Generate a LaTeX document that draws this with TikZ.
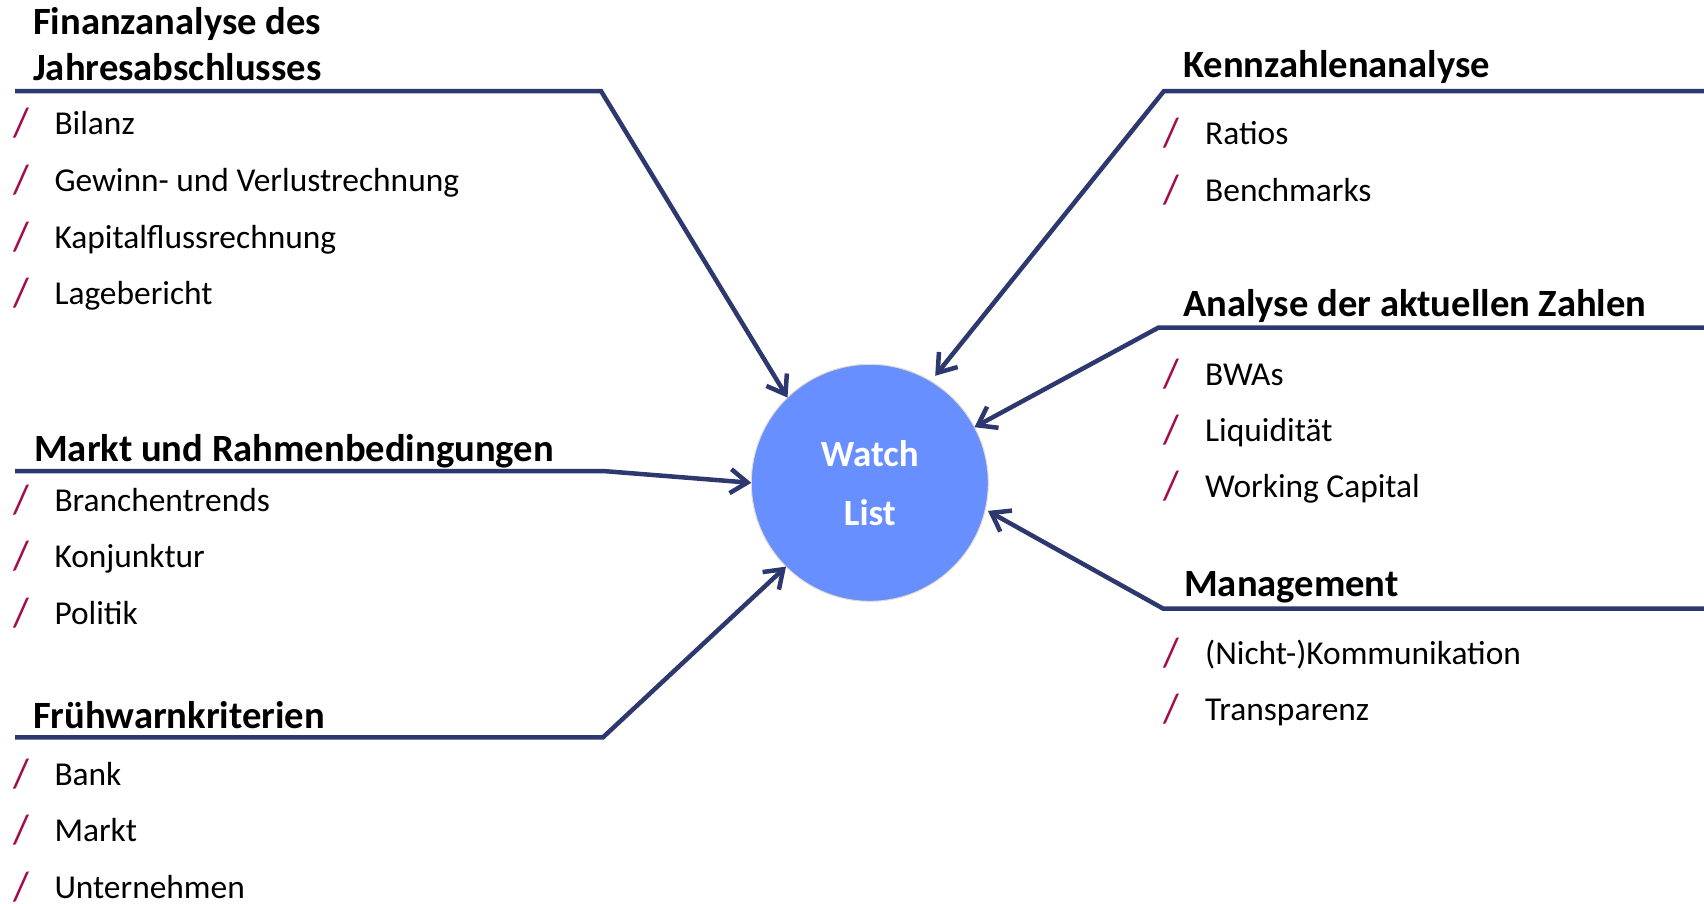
\documentclass[tikz,border=0pt]{standalone}
\usepackage{fontspec}
\setmainfont{Carlito}
\usetikzlibrary{arrows.meta}

\definecolor{navy}{RGB}{44,56,110}
\definecolor{bubble}{RGB}{104,143,255}
\definecolor{slashred}{RGB}{163,12,80}

\begin{document}
\begin{tikzpicture}[x=1pt, y=-1pt,
  head/.style={font=\fontsize{38.6}{45.7}\selectfont\bfseries, anchor=base west, inner sep=0pt, align=left},
  item/.style={font=\fontsize{33.4}{40}\selectfont, anchor=base west, inner sep=0pt},
  bullet/.style={font=\fontsize{41}{48}\selectfont, text=slashred, anchor=base, inner sep=0pt},
  link/.style={draw=navy, line width=4.5pt, -{Straight Barb[length=17pt,width=24pt]}}]
\useasboundingbox (0,0) rectangle (1704,903); % page

\node[circle, fill=bubble, draw={rgb,255:red,228;green,218;blue,205}, line width=1pt, minimum size=237pt, inner sep=0pt, outer sep=0pt,
      font=\fontsize{37}{59}\selectfont\bfseries, text=white, align=center] (watch) at (869.8,482.8) {Watch\\List}; % centre

% left: Finanzanalyse
\node[head] (finanz) at (33,80) {Finanzanalyse des\\Jahresabschlusses}; % heading
\coordinate (finanzL) at (15,91); % line start
\coordinate (finanzK) at (601,91); % bend
\draw[link] (finanzL) -- (finanzK) -- (watch.134.6); % arrow
\node[bullet] (b11) at (21,136.3) {/}; \node[item] (i11) at (54.3,134.3) {Bilanz};
\node[bullet] (b12) at (21,193.7) {/}; \node[item] (i12) at (54.3,191.7) {Gewinn- und Verlustrechnung};
\node[bullet] (b13) at (21,250.3) {/}; \node[item] (i13) at (54.3,248.3) {Kapitalflussrechnung};
\node[bullet] (b14) at (21,306.0) {/}; \node[item] (i14) at (54.3,304.0) {Lagebericht};

% left: Markt
\node[head] (markt) at (34,461.7) {Markt und Rahmenbedingungen}; % heading
\coordinate (marktL) at (15,471); % line start
\coordinate (marktK) at (603,471); % bend
\draw[link] (marktL) -- (marktK) -- (watch.180.2); % arrow
\node[bullet] (b21) at (21,513.0) {/}; \node[item] (i21) at (54.3,511.0) {Branchentrends};
\node[bullet] (b22) at (21,569.7) {/}; \node[item] (i22) at (54.3,567.7) {Konjunktur};
\node[bullet] (b23) at (21,626.3) {/}; \node[item] (i23) at (54.3,624.3) {Politik};

% left: Fruehwarn
\node[head] (frueh) at (33,728.3) {Frühwarnkriterien}; % heading
\coordinate (fruehL) at (15,737.3); % line start
\coordinate (fruehK) at (603,737.3); % bend
\draw[link] (fruehL) -- (fruehK) -- (watch.225.4); % arrow
\node[bullet] (b31) at (21,787.0) {/}; \node[item] (i31) at (54.3,785.0) {Bank};
\node[bullet] (b32) at (21,843.7) {/}; \node[item] (i32) at (54.3,841.7) {Markt};
\node[bullet] (b33) at (21,900.3) {/}; \node[item] (i33) at (54.3,898.3) {Unternehmen};

% right: Kennzahlen
\node[head] (kennz) at (1183,77.3) {Kennzahlenanalyse}; % heading
\coordinate (kennzR) at (1710,91); % line end
\coordinate (kennzK) at (1164,91); % bend
\draw[link, shorten >=7pt] (kennzR) -- (kennzK) -- (watch.59.2); % arrow
\node[bullet] (b41) at (1171.7,146) {/}; \node[item] (i41) at (1205,144) {Ratios};
\node[bullet] (b42) at (1171.7,203) {/}; \node[item] (i42) at (1205,201) {Benchmarks};

% right: aktuelle Zahlen
\node[head] (zahlen) at (1183,316.7) {Analyse der aktuellen Zahlen}; % heading
\coordinate (zahlenR) at (1710,327.7); % line end
\coordinate (zahlenK) at (1158.3,327.7); % bend
\draw[link] (zahlenR) -- (zahlenK) -- (watch.28.6); % arrow
\node[bullet] (b51) at (1171.7,387.0) {/}; \node[item] (i51) at (1205,385.0) {BWAs};
\node[bullet] (b52) at (1171.7,443.0) {/}; \node[item] (i52) at (1205,441.0) {Liquidität};
\node[bullet] (b53) at (1171.7,499.3) {/}; \node[item] (i53) at (1205,497.3) {Working Capital};

% right: Management
\node[head] (mgmt) at (1184,596) {Management}; % heading
\coordinate (mgmtR) at (1710,608.7); % line end
\coordinate (mgmtK) at (1163.3,608.7); % bend
\draw[link, shorten >=3pt] (mgmtR) -- (mgmtK) -- (watch.-13.4); % arrow
\node[bullet] (b61) at (1171.7,666) {/}; \node[item] (i61) at (1205,664) {(Nicht-)Kommunikation};
\node[bullet] (b62) at (1171.7,722) {/}; \node[item] (i62) at (1205,720) {Transparenz};

\end{tikzpicture}
\end{document}
